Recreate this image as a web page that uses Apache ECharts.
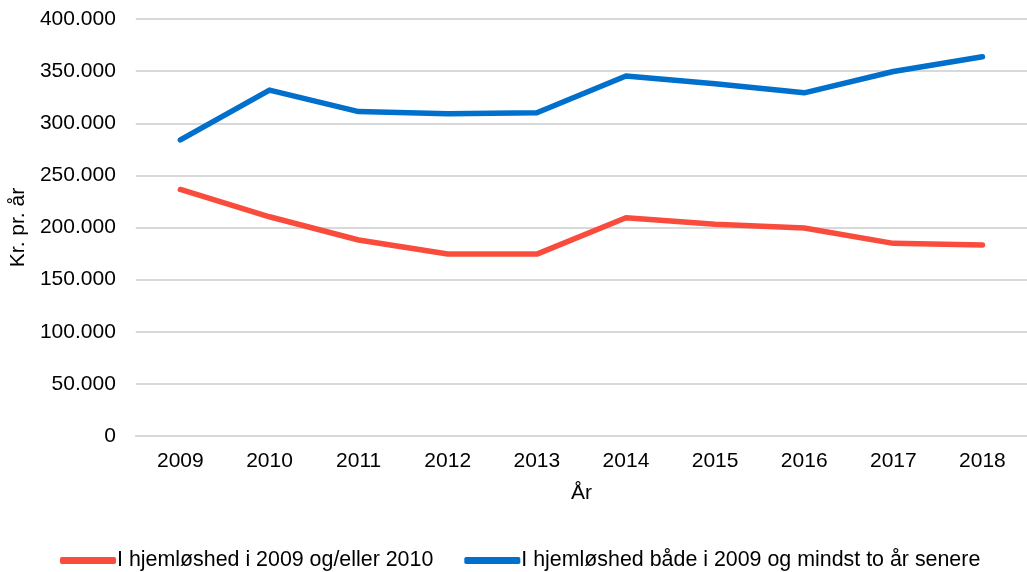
<!DOCTYPE html>
<html>
<head>
<meta charset="utf-8">
<script src="https://cdn.jsdelivr.net/npm/echarts@6/dist/echarts.min.js"></script>
<style>
  html, body { margin: 0; padding: 0; background: #fff; }
  #main { width: 1027px; height: 572px; }
</style>
</head>
<body>
<div id="main"></div>
<script>
// data
var years = ['2009', '2010', '2011', '2012', '2013', '2014', '2015', '2016', '2017', '2018'];
var seriesNames = ['I hjemløshed i 2009 og/eller 2010', 'I hjemløshed både i 2009 og mindst to år senere'];
var homeless2009or2010 = [236500, 210300, 188000, 174600, 174500, 209400, 203200, 199600, 184800, 183200];
var homelessLater = [284000, 331800, 311200, 309000, 310000, 345300, 338000, 329200, 349600, 363800];

// tal med punktum som tusindtalsskilletegn
function fmt(v) {
  return String(v).replace(/\B(?=(\d{3})+(?!\d))/g, '.');
}

var myChart = echarts.init(document.getElementById('main'));
var font = 'Liberation Sans, Arial, sans-serif';

var option = {
  animation: false,
  textStyle: { fontFamily: font },
  grid: { left: 135, right: -7, top: 19, bottom: 136 },
  legend: {
    left: 55,
    top: 545,
    itemGap: 31,
    itemWidth: 56,
    itemHeight: 7,
    icon: 'roundRect',
    textStyle: { fontSize: 21.4, color: '#000', fontFamily: font, padding: [0, 0, 0, -4] },
    data: seriesNames
  },
  xAxis: {
    type: 'category',
    data: years,
    boundaryGap: true,
    name: 'År',
    nameLocation: 'middle',
    nameGap: 47,
    nameTextStyle: { fontSize: 21, color: '#000' },
    axisLine: { show: true, lineStyle: { color: '#d9d9d9', width: 2 } },
    axisTick: { show: false },
    axisLabel: { fontSize: 21, color: '#000', margin: 15 }
  },
  yAxis: {
    type: 'value',
    min: 0,
    max: 400000,
    interval: 50000,
    name: 'Kr. pr. år',
    nameLocation: 'middle',
    nameRotate: 90,
    nameGap: 106,
    nameTextStyle: { fontSize: 21, color: '#000', padding: [0, 0, 0, 0] },
    axisLine: { show: false },
    axisTick: { show: false },
    axisLabel: { fontSize: 21, color: '#000', margin: 20, formatter: fmt },
    splitLine: { lineStyle: { color: '#d9d9d9', width: 2 } }
  },
  series: [
    {
      name: seriesNames[0],
      type: 'line',
      data: homeless2009or2010,
      symbol: 'none',
      color: '#f94c3c',
      lineStyle: { width: 5.5, cap: 'round', join: 'round' }
    },
    {
      name: seriesNames[1],
      type: 'line',
      data: homelessLater,
      symbol: 'none',
      color: '#0070cc',
      lineStyle: { width: 5.5, cap: 'round', join: 'round' }
    }
  ]
};

myChart.setOption(option);
</script>
</body>
</html>
